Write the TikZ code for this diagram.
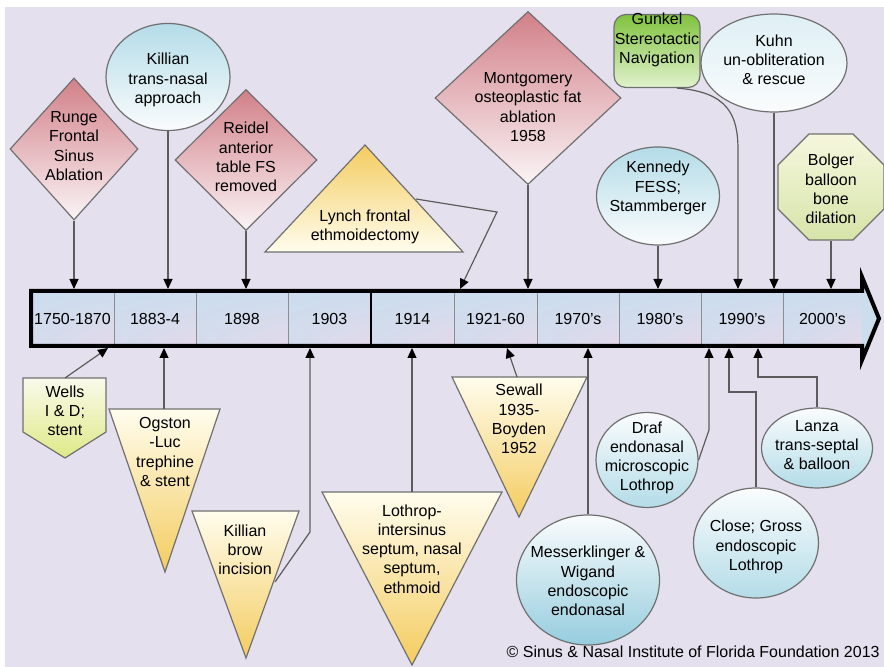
\documentclass[tikz,border=0pt]{standalone}
\usepackage{fontspec}
\setmainfont{Liberation Sans}
\usetikzlibrary{shapes.geometric,arrows.meta,shadings}

\definecolor{bgLav}{RGB}{229,224,238}
\definecolor{cellBlue}{RGB}{204,221,238}
\definecolor{cellPink}{RGB}{228,217,234}
\definecolor{rose}{RGB}{210,128,136}
\definecolor{roseLight}{RGB}{250,244,246}
\definecolor{skyBlue}{RGB}{180,220,232}
\definecolor{skyDeep}{RGB}{150,205,222}
\definecolor{skyLight}{RGB}{250,252,253}
\definecolor{sand}{RGB}{244,204,96}
\definecolor{sandLight}{RGB}{255,253,238}
\definecolor{leaf}{RGB}{128,194,62}
\definecolor{leafLight}{RGB}{225,242,205}
\definecolor{lime}{RGB}{214,228,168}
\definecolor{limeLight}{RGB}{246,247,222}
\definecolor{edge}{RGB}{112,112,112}
\definecolor{wire}{RGB}{92,92,92}

\tikzset{
  lbl/.style={align=center, font=\fontsize{8}{9.6}\selectfont, inner sep=0pt},
  shp/.style={draw=edge, line width=0.6pt, inner sep=0pt},
  rosediamond/.style={shp, diamond, top color=rose, bottom color=roseLight},
  bluetop/.style={shp, ellipse, top color=skyBlue, bottom color=skyLight},
  bluebot/.style={shp, ellipse, top color=skyLight, bottom color=skyBlue},
  sandup/.style={draw=edge, line width=0.6pt, top color=sand, bottom color=sandLight},
  sanddown/.style={draw=edge, line width=0.6pt, top color=sandLight, bottom color=sand},
  cell/.style={draw=edge!80, line width=0.5pt, inner sep=0pt, minimum height=27.5pt,
    upper left=cellBlue, upper right=cellBlue, lower left=cellBlue!70!cellPink,
    lower right=cellPink, font=\fontsize{8}{9.6}\selectfont},
  conn/.style={draw=wire, line width=0.6pt, -{Triangle[length=5pt,width=4.5pt,color=black,fill=black]}},
}

\begin{document}
\begin{tikzpicture}[x=0.5pt, y=-0.5pt]
\useasboundingbox (0,0) rectangle (884,667);
\fill[white] (0,0) rectangle (884,667);
\fill[bgLav] (5,7) rectangle (884,667);

% timeline
\node[cell, minimum width=41.5pt] (c1750) at (72.5,318.5) {1750-1870};
\node[cell, minimum width=41pt] (c1883) at (155,318.5) {1883-4};
\node[cell, minimum width=46pt] (c1898) at (242,318.5) {1898};
\node[cell, minimum width=41.5pt] (c1903) at (329.5,318.5) {1903};
\node[cell, minimum width=41.5pt] (c1914) at (412.5,318.5) {1914};
\node[cell, minimum width=41.5pt] (c1921) at (495.5,318.5) {1921-60};
\node[cell, minimum width=41pt] (c1970) at (578,318.5) {1970’s};
\node[cell, minimum width=41pt] (c1980) at (660,318.5) {1980’s};
\node[cell, minimum width=41pt] (c1990) at (742,318.5) {1990’s};
\node[cell, minimum width=39.5pt] (c2000) at (822.5,318.5) {2000’s};
\fill[cellBlue] (862,291) -- (862,277) -- (879,318.5) -- (862,360) -- (862,346) -- cycle;
\draw[black, line width=0.8pt] (371,291) -- (371,346);
\draw[black, line width=2pt] (31,291) -- (862,291) -- (862,277) -- (879,318.5)
  -- (862,360) -- (862,346) -- (31,346) -- cycle;
\coordinate (tltop) at (0,289);
\coordinate (tlbot) at (0,348);

% upper events
\node[rosediamond, minimum width=64pt, minimum height=71pt] (runge) at (74,149) {};
\node[lbl] (runge-t) at (74,146) {Runge\\Frontal\\Sinus\\Ablation};
\node[bluetop, minimum width=62pt, minimum height=53.5pt] (killian) at (168,77) {};
\node[lbl] (killian-t) at (168,80) {Killian\\trans-nasal\\approach};
\node[rosediamond, minimum width=71pt, minimum height=70.5pt] (reidel) at (246,160) {};
\node[lbl] (reidel-t) at (246,157) {Reidel\\anterior\\table FS\\removed};
\draw[sandup] (265,252) -- (365,145) -- (463,252) -- cycle;
\node[lbl] (lynch-t) at (365,227) {Lynch frontal\\ethmoidectomy};
\coordinate (lynch) at (416,199);
\node[rosediamond, minimum width=93pt, minimum height=86.5pt] (montg) at (528,98) {};
\node[lbl] (montg-t) at (528,107) {Montgomery\\osteoplastic fat\\ablation\\1958};
\node[shp, rectangle, rounded corners=6pt, minimum width=43pt, minimum height=36.5pt,
  top color=leaf, bottom color=leafLight] (gunkel) at (657,51) {};
\node[lbl] (gunkel-t) at (657,40) {Gunkel\\Stereotactic\\Navigation};
\node[shp, ellipse, top color=skyLight!60!skyBlue, bottom color=skyLight,
  minimum width=73pt, minimum height=49pt] (kuhn) at (774,63) {};
\node[lbl] (kuhn-t) at (774,60) {Kuhn\\un-obliteration\\\& rescue};
\node[bluetop, minimum width=61.5pt, minimum height=49pt] (kennedy) at (658,196) {};
\node[lbl] (kennedy-t) at (658,188) {Kennedy\\FESS;\\Stammberger};
\node[shp, regular polygon, regular polygon sides=8, minimum size=57.4pt,
  top color=limeLight, bottom color=lime] (bolger) at (831,187) {};
\node[lbl] (bolger-t) at (831,189) {Bolger\\balloon\\bone\\dilation};

\draw[conn] (runge.south) -- (runge.south |- tltop);
\draw[conn] (killian.south) -- (killian.south |- tltop);
\draw[conn] (reidel.south) -- (reidel.south |- tltop);
\draw[conn] (lynch) -- (497,212) -- (460,289);
\draw[conn] (montg.south) -- (montg.south |- tltop);
\draw[conn] ([xshift=10pt]gunkel.south) .. controls (728,92) and (738,115) .. (738,150) -- (738,289);
\draw[conn] (kuhn.south) -- (kuhn.south |- tltop);
\draw[conn] (kennedy.south) -- (kennedy.south |- tltop);
\draw[conn] (bolger.south) -- (bolger.south |- tltop);

% lower events
\draw[draw=edge, line width=0.6pt, top color=limeLight!60!white, bottom color=lime!80!yellow]
  (23,378) -- (106,378) -- (106,432) -- (65,458) -- (23,432) -- cycle;
\node[lbl] (wells-t) at (65,411) {Wells\\I \& D;\\stent};
\coordinate (wells) at (65,378);
\draw[sanddown] (109,409) -- (220,409) -- (165,572) -- cycle;
\node[lbl] (ogston-t) at (165,452) {Ogston\\-Luc\\trephine\\\& stent};
\coordinate (ogston) at (164,409);
\draw[sanddown] (192,511) -- (299,511) -- (246,658) -- cycle;
\node[lbl] (kbrow-t) at (245,550) {Killian\\brow\\incision};
\coordinate (kbrow) at (275,582);
\draw[sanddown] (322,492) -- (502,492) -- (412,665) -- cycle;
\node[lbl] (lothrop-t) at (412,549) {Lothrop-\\intersinus\\septum, nasal\\septum,\\ethmoid};
\coordinate (lothrop) at (412,492);
\draw[sanddown] (452,377) -- (587,377) -- (519,517) -- cycle;
\node[lbl] (sewall-t) at (519,419) {Sewall\\1935-\\Boyden\\1952};
\coordinate (sewall) at (517,377);
\node[shp, ellipse, top color=skyLight, bottom color=skyDeep,
  minimum width=71.5pt, minimum height=65pt] (messer) at (588,580) {};
\node[lbl] (messer-t) at (588,581) {Messerklinger \&\\Wigand\\endoscopic\\endonasal};
\node[bluebot, minimum width=51pt, minimum height=47.5pt] (draf) at (647,460) {};
\node[lbl] (draf-t) at (647,458) {Draf\\endonasal\\microscopic\\Lothrop};
\node[bluebot, minimum width=62.5pt, minimum height=55pt] (close) at (756,543) {};
\node[lbl] (close-t) at (756,547) {Close; Gross\\endoscopic\\Lothrop};
\node[bluebot, minimum width=55.5pt, minimum height=40pt] (lanza) at (817,448) {};
\node[lbl] (lanza-t) at (817,445) {Lanza\\trans-septal\\\& balloon};

\draw[conn] (wells) -- (108,348);
\draw[conn] (ogston) -- (ogston |- tlbot);
\draw[conn] (kbrow) -- (310,532) -- (310,348);
\draw[conn] (lothrop) -- (lothrop |- tlbot);
\draw[conn] (sewall) -- (507,348);
\draw[conn] (messer.north) -- (messer.north |- tlbot);
\draw[conn] (draf.east) -- (709,430) -- (709,348);
\draw[conn] (close.north) -- (756,392) -- (729,392) -- (729,348);
\draw[conn] (lanza.north) -- (817,377) -- (758,377) -- (758,348);

\node[lbl, anchor=east] (copyr) at (880,652) {© Sinus \& Nasal Institute of Florida Foundation 2013};
\end{tikzpicture}
\end{document}
